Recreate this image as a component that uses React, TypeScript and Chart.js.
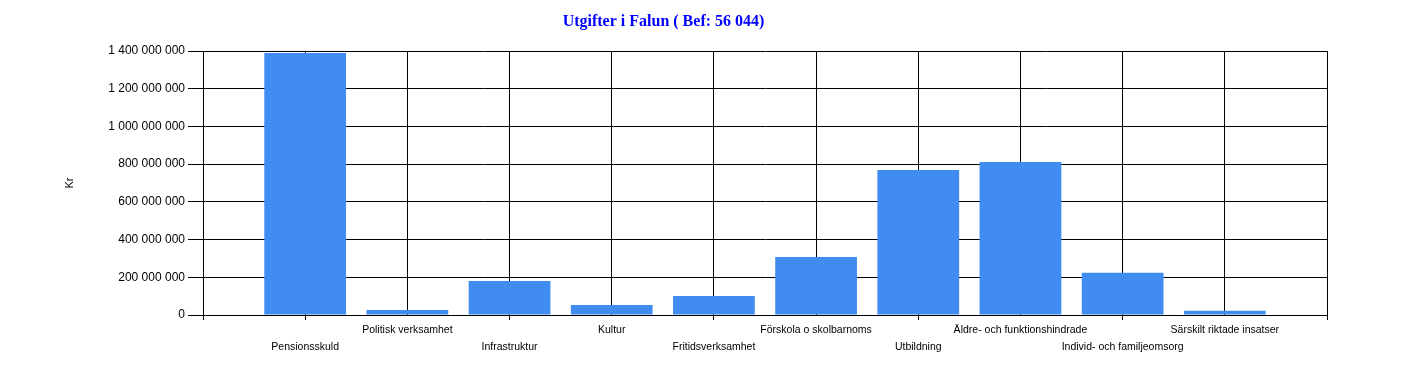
import React, { useEffect, useRef } from "react";
import { Chart, registerables } from "chart.js";

Chart.register(...registerables);

const titleText = "Utgifter i Falun ( Bef: 56 044)";
const yAxisTitle = "Kr";
const categories = [
  "Pensionsskuld",
  "Politisk verksamhet",
  "Infrastruktur",
  "Kultur",
  "Fritidsverksamhet",
  "Förskola o skolbarnoms",
  "Utbildning",
  "Äldre- och funktionshindrade",
  "Individ- och familjeomsorg",
  "Särskilt riktade insatser",
];
const values = [
  1390000000, 27000000, 180000000, 53000000, 101000000, 308000000, 769000000,
  811000000, 224000000, 23000000,
];
const yMin = 0;
const yMax = 1400000000;
const yStep = 200000000;

const fmt = (v: number) => String(Math.round(v)).replace(/\B(?=(\d{3})+(?!\d))/g, " ");

export default function App() {
  const ref = useRef<HTMLCanvasElement | null>(null);

  useEffect(() => {
    if (!ref.current) return;
    // staggered labels: odd positions on lower row
    const labels: (string | string[])[] = [""];
    categories.forEach((c, i) => labels.push(i % 2 === 0 ? ["", c] : c));
    labels.push("");
    const data: (number | null)[] = [null, ...values, null];

    const chart = new Chart(ref.current, {
      type: "bar",
      data: {
        labels,
        datasets: [
          {
            data,
            backgroundColor: "#418CF0",
            borderWidth: 0,
            categoryPercentage: 0.8,
            barPercentage: 1,
          },
        ],
      },
      options: {
        animation: false,
        responsive: false,
        events: [],
        layout: { padding: { left: 0, right: 93, top: 0, bottom: 0 } },
        plugins: {
          legend: { display: false },
          tooltip: { enabled: false },
          title: {
            display: true,
            text: titleText,
            color: "#0000FF",
            font: { family: "'Liberation Serif', 'Times New Roman', serif", size: 16, weight: "bold" },
            padding: { top: 12, bottom: 19.8 },
          },
        },
        scales: {
          x: {
            type: "category",
            offset: false,
            grid: {
              offset: false,
              color: "#000",
              lineWidth: 1,
              tickLength: 5,
              tickColor: (ctx: any) =>
                ctx.index === 0 || ctx.index % 2 === 1 ? "#000" : "rgba(0,0,0,0)",
            },
            border: { color: "#000", width: 1 },
            ticks: {
              autoSkip: false,
              maxRotation: 0,
              minRotation: 0,
              padding: 2,
              color: "#000",
              font: { family: "'Liberation Sans', Arial, sans-serif", size: 10.5, lineHeight: "17px" },
            },
            afterFit: (scale: any) => {
              scale.height = 54;
            },
          },
          y: {
            min: yMin,
            max: yMax,
            ticks: {
              stepSize: yStep,
              padding: 3,
              color: "#000",
              font: { family: "'Liberation Sans', Arial, sans-serif", size: 12 },
              callback: (v: any) => fmt(Number(v)),
            },
            grid: { color: "#000", lineWidth: 1, tickLength: 15 },
            border: { color: "#000", width: 1 },
            title: {
              display: true,
              text: yAxisTitle,
              color: "#000",
              font: { family: "'Liberation Sans', Arial, sans-serif", size: 11 },
              padding: { top: 63, bottom: 0 },
            },
            afterFit: (scale: any) => {
              scale.width = 203;
            },
          },
        },
      },
    });
    return () => chart.destroy();
  }, []);

  return (
    <div style={{ position: "absolute", left: 0, top: 0, width: 1420, height: 369, background: "#fff" }}>
      <canvas ref={ref} width={1420} height={369} style={{ display: "block", width: 1420, height: 369 }} />
    </div>
  );
}
